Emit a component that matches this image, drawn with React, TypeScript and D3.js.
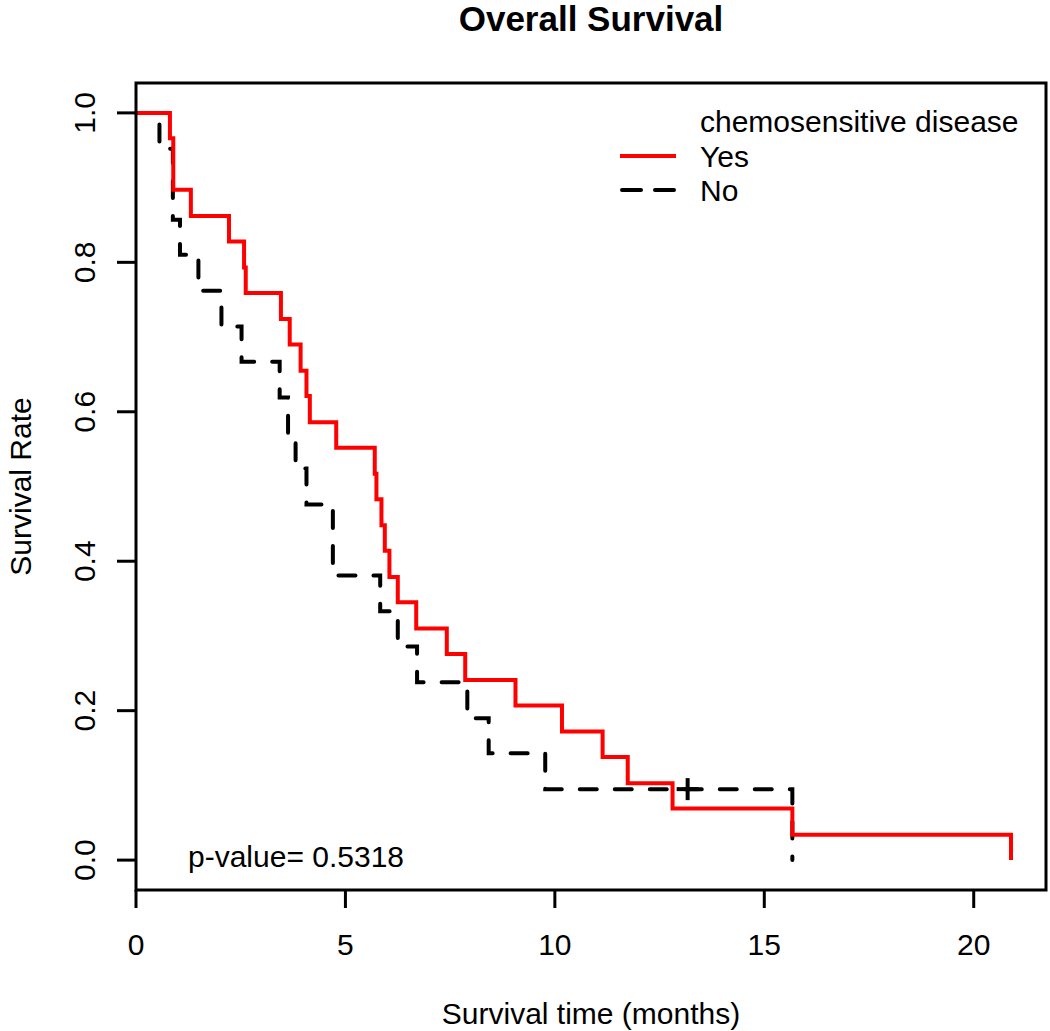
import React from 'react';
import * as d3 from 'd3';

// Kaplan-Meier steps (months, survival after the drop)
const yesTimes = [0.81, 0.89, 1.31, 2.22, 2.58, 2.62, 3.46, 3.67, 3.93, 4.07, 4.15, 4.78, 5.70, 5.74, 5.86, 5.94, 6.05, 6.25, 6.69, 7.42, 7.86, 9.06, 10.17, 11.14, 11.74, 12.81, 15.67, 20.89];
const yesSurv = [0.966, 0.897, 0.862, 0.828, 0.793, 0.759, 0.724, 0.690, 0.655, 0.621, 0.586, 0.552, 0.517, 0.483, 0.448, 0.414, 0.379, 0.345, 0.310, 0.276, 0.241, 0.207, 0.172, 0.138, 0.103, 0.069, 0.034, 0];

const noTimes = [0.56, 0.88, 1.05, 1.49, 2.04, 2.52, 3.43, 3.63, 3.81, 4.07, 4.70, 5.83, 6.25, 6.71, 7.91, 8.42, 9.77, 15.67];
const noSurv = [0.952, 0.857, 0.810, 0.762, 0.714, 0.667, 0.619, 0.571, 0.524, 0.476, 0.381, 0.333, 0.286, 0.238, 0.190, 0.143, 0.095, 0];
const noCensorTimes = [13.17];
const noCensorSurv = [0.095];

const xTicks = [0, 5, 10, 15, 20];
const yTicks = [0, 0.2, 0.4, 0.6, 0.8, 1.0];

const legendTitle = 'chemosensitive disease';
const legendLabels = ['Yes', 'No'];
const pValueText = 'p-value= 0.5318';

const W = 1050;
const H = 1031;
const box = { left: 136, right: 1046, top: 83, bottom: 890 };
const font = '"Liberation Sans", Arial, sans-serif';

const App: React.FC = () => {
  // like R's plot.survfit: no padding at 0, 4% at the far end
  const tMax = d3.max([...yesTimes, ...noTimes]) || 1;
  const x = d3.scaleLinear().domain([0, tMax * 1.04]).range([box.left, box.right]);
  const y = d3.scaleLinear().domain([-0.04, 1.04]).range([box.bottom, box.top]);

  const line = d3.line<[number, number]>()
    .x(d => x(d[0]))
    .y(d => y(d[1]))
    .curve(d3.curveStepAfter);

  const toPts = (ts: number[], ss: number[]): [number, number][] =>
    [[0, 1] as [number, number], ...ts.map((t, i) => [t, ss[i]] as [number, number])];

  const yesPath = line(toPts(yesTimes, yesSurv)) || '';
  const noPath = line(toPts(noTimes, noSurv)) || '';

  const tick = 18;

  return (
    <svg width={W} height={H} style={{ position: 'absolute', left: 0, top: 0, background: '#fff' }}
      fontFamily={font}>
      <rect x={0} y={0} width={W} height={H} fill="#fff" />

      <text x={(box.left + box.right) / 2} y={31} textAnchor="middle" fontSize={35} fontWeight="bold">
        Overall Survival
      </text>

      {/* curves */}
      <path d={noPath} fill="none" stroke="#000" strokeWidth={4} strokeDasharray="17 18" strokeLinecap="round" />
      {noCensorTimes.map((t, i) => (
        <g key={i} stroke="#000" strokeWidth={4}>
          <line x1={x(t) - 11} x2={x(t) + 11} y1={y(noCensorSurv[i])} y2={y(noCensorSurv[i])} />
          <line x1={x(t)} x2={x(t)} y1={y(noCensorSurv[i]) - 11} y2={y(noCensorSurv[i]) + 11} />
        </g>
      ))}
      <path d={yesPath} fill="none" stroke="#ff0000" strokeWidth={4} />

      {/* frame */}
      <rect x={box.left} y={box.top} width={box.right - box.left} height={box.bottom - box.top}
        fill="none" stroke="#000" strokeWidth={3} />

      {/* x axis */}
      {xTicks.map(t => (
        <g key={t}>
          <line x1={x(t)} x2={x(t)} y1={box.bottom} y2={box.bottom + tick} stroke="#000" strokeWidth={3} />
          <text x={x(t)} y={955} textAnchor="middle" fontSize={30}>{t}</text>
        </g>
      ))}
      <text x={(box.left + box.right) / 2} y={1024} textAnchor="middle" fontSize={30}>
        Survival time (months)
      </text>

      {/* y axis */}
      {yTicks.map(v => (
        <g key={v}>
          <line x1={box.left - tick - 1} x2={box.left} y1={y(v)} y2={y(v)} stroke="#000" strokeWidth={3} />
          <text transform={`translate(95,${y(v)}) rotate(-90)`} textAnchor="middle" fontSize={30}>
            {v.toFixed(1)}
          </text>
        </g>
      ))}
      <text transform={`translate(31,${(box.top + box.bottom) / 2}) rotate(-90)`} textAnchor="middle" fontSize={30}>
        Survival Rate
      </text>

      {/* legend */}
      <text x={700} y={132} fontSize={30}>{legendTitle}</text>
      <line x1={620} x2={676} y1={156} y2={156} stroke="#ff0000" strokeWidth={4} />
      <text x={700} y={167} fontSize={30}>{legendLabels[0]}</text>
      <line x1={622} x2={676} y1={190} y2={190} stroke="#000" strokeWidth={4}
        strokeDasharray="19 14" strokeLinecap="round" />
      <text x={700} y={201} fontSize={30}>{legendLabels[1]}</text>

      <text x={188} y={867} fontSize={30}>{pValueText}</text>
    </svg>
  );
};

export default App;
